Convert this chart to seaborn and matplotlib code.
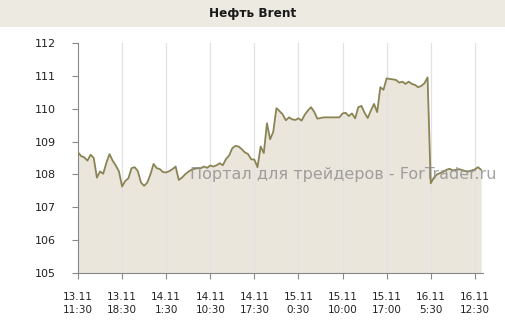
import matplotlib
matplotlib.use("Agg")
import matplotlib.pyplot as plt
import seaborn as sns
import numpy as np
import pandas as pd
from matplotlib.patches import Rectangle

prices = [
    108.67, 108.56, 108.52, 108.42, 108.60, 108.50, 107.90, 108.09, 108.02, 108.35,
    108.62, 108.42, 108.27, 108.09, 107.63, 107.80, 107.88, 108.19, 108.22, 108.10,
    107.75, 107.65, 107.75, 108.00, 108.32, 108.19, 108.16, 108.07, 108.06, 108.10,
    108.16, 108.24, 107.83, 107.90, 108.00, 108.08, 108.14, 108.17, 108.19, 108.19,
    108.24, 108.20, 108.27, 108.24, 108.28, 108.34, 108.28, 108.47, 108.58, 108.80,
    108.87, 108.85, 108.77, 108.67, 108.62, 108.46, 108.45, 108.22, 108.85, 108.65,
    109.56, 109.07, 109.30, 110.02, 109.93, 109.83, 109.65, 109.74, 109.68, 109.66,
    109.71, 109.64, 109.82, 109.95, 110.05, 109.91, 109.70, 109.72, 109.74, 109.74,
    109.74, 109.74, 109.74, 109.74, 109.86, 109.88, 109.78, 109.86, 109.71, 110.05,
    110.09, 109.88, 109.72, 109.95, 110.15, 109.90, 110.66, 110.58, 110.93, 110.91,
    110.90, 110.88, 110.80, 110.83, 110.76, 110.83, 110.76, 110.73, 110.66, 110.70,
    110.78, 110.96, 107.73, 107.90, 108.00, 108.04, 108.08, 108.14, 108.17, 108.12,
    108.14, 108.16, 108.13, 108.10, 108.09, 108.12, 108.15, 108.22, 108.14,
]
tick_labels = ["13.11\n11:30", "13.11\n18:30", "14.11\n1:30", "14.11\n10:30",
               "14.11\n17:30", "15.11\n0:30", "15.11\n10:00", "15.11\n17:00",
               "16.11\n5:30", "16.11\n12:30"]
y_ticks = [105, 106, 107, 108, 109, 110, 111, 112]
title = "Нефть Brent"
watermark = "Портал для трейдеров - ForTrader.ru"

df = pd.DataFrame({"i": np.arange(len(prices)), "price": prices})
tick_pos = np.arange(len(tick_labels)) * 14

sns.set_theme(style="white")
plt.rcParams["font.family"] = ["DejaVu Sans"]

W, H = 505, 326
fig = plt.figure(figsize=(W / 100, H / 100), dpi=100)
fig.patch.set_facecolor("white")

# title band
fig.patches.append(Rectangle((0, 1 - 27 / H), 1, 27 / H, transform=fig.transFigure,
                             facecolor="#edeae2", edgecolor="none", zorder=0))
fig.text(0.5, 1 - 14 / H, title, ha="center", va="center", fontsize=8.7,
         fontweight="bold", color="#1a1a1a")

ax = fig.add_axes([78 / W, 1 - 272.7 / H, (483 - 78) / W, (272.7 - 43.3) / H])
ax.set_facecolor("white")

ax.fill_between(df["i"], df["price"], 105, color="#ebe6dc", linewidth=0, zorder=1)
sns.lineplot(data=df, x="i", y="price", ax=ax, color="#8a8455", linewidth=1.3, zorder=3)

for p in tick_pos[1:]:
    ax.axvline(p, color="#e2e2e2", linewidth=0.9, zorder=2)

ax.set_xlim(0, 128.6)
ax.set_ylim(105, 112)
ax.set_xticks(tick_pos)
ax.set_xticklabels(tick_labels, fontsize=7.5, color="#222222", linespacing=1.35)
ax.set_yticks(y_ticks)
ax.set_yticklabels([str(v) for v in y_ticks], fontsize=8, color="#222222")
ax.tick_params(axis="both", which="both", direction="out", length=4, width=0.8,
               color="#888888", left=True, bottom=True)
ax.tick_params(axis="y", pad=12)
ax.tick_params(axis="x", pad=10)
ax.set_xlabel("")
ax.set_ylabel("")
for s in ["top", "right"]:
    ax.spines[s].set_visible(False)
for s in ["left", "bottom"]:
    ax.spines[s].set_color("#888888")
    ax.spines[s].set_linewidth(0.8)

fig.text(343.5 / W, 1 - 174 / H, watermark, ha="center", va="center",
         fontsize=11.5, color="#8c8c8c", alpha=0.8, zorder=10)

fig.savefig("out.png", dpi=100)
